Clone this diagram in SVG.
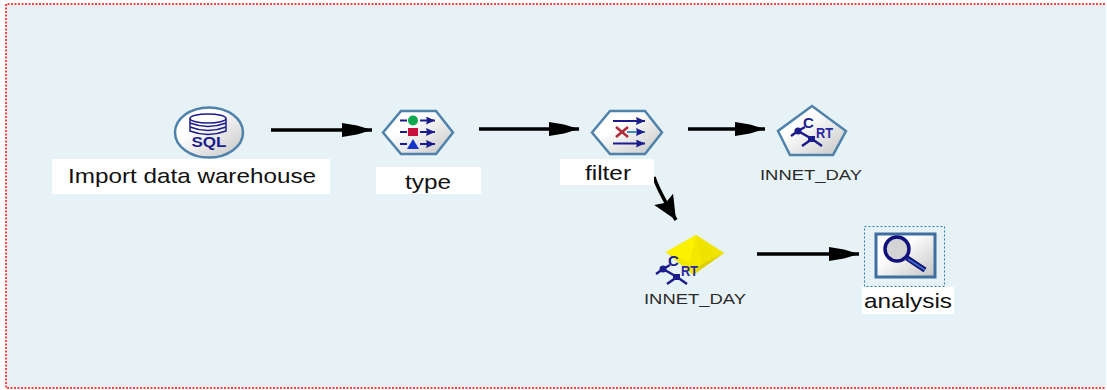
<svg xmlns="http://www.w3.org/2000/svg" width="1107" height="390" viewBox="0 0 1107 390">
<style>
text{font-family:"Liberation Sans",Arial,sans-serif;fill:#111}
.lbl{font-size:21px}
.sm{font-size:15px;fill:#2a2a2a}
.box{fill:#fff}
.shape{fill:url(#g);stroke:#4f82ab;stroke-width:2.500}
.ic{fill:none;stroke:#1c1c8c;stroke-width:2}
.icf{fill:#1c1c8c}
.conn{fill:none;stroke:#000;stroke-width:3.500}
</style>
<defs>
<linearGradient id="g" x1="0" y1="0" x2="1" y2="1"><stop offset="0.35" stop-color="#fff"/><stop offset="1" stop-color="#c4c4c4"/></linearGradient>
<marker id="a" markerUnits="userSpaceOnUse" markerWidth="30" markerHeight="16" refX="30" refY="8" orient="auto"><path d="M0 1L15 3.500 30 8 15 12.500 0 15Z" fill="#000"/></marker>
<marker id="b" markerUnits="userSpaceOnUse" markerWidth="24" markerHeight="24" refX="24" refY="12" orient="auto"><path d="M0 1L24 12 0 23 4 12Z" fill="#000"/></marker>
<marker id="ah" markerUnits="userSpaceOnUse" markerWidth="10" markerHeight="8" refX="9" refY="4" orient="auto"><path d="M0 0L9 4 0 8 1 4Z" fill="#1c1c8c"/></marker>
<g id="crt">
<path class="ic" style="stroke-width:2.500" d="M-19 6L-12 1 2 9M-12 1L-5 -3M-8 16L2 9 12 16"/>
<circle class="icf" cx="-12" cy="1" r="3.500"/><rect class="icf" x="-2" y="6" width="7" height="6"/>
<text x="-7" y="-2" style="font-size:15px;font-weight:bold;fill:#1c1c8c">C</text>
<text x="6" y="8" textLength="17" lengthAdjust="spacingAndGlyphs" style="font-size:15px;font-weight:bold;fill:#2a2aa0">RT</text>
</g>
</defs>
<rect width="1107" height="390" fill="#fff"/>
<rect x="6" y="4" width="1100" height="384" fill="#e7f2f7"/>
<path d="M1105 4H6V388H1106" fill="none" stroke="#f44" stroke-width="2" stroke-dasharray="2 1.500"/>
<g id="connectors">
<path class="conn" d="M271 130H372" marker-end="url(#a)"/>
<path class="conn" d="M479 129H579" marker-end="url(#a)"/>
<path class="conn" d="M688 129H765" marker-end="url(#a)"/>
<path class="conn" d="M654 177Q658 190 676 220" marker-end="url(#b)"/>
<path class="conn" d="M757 254H859" marker-end="url(#a)"/>
</g>
<g id="import">
<ellipse class="shape" cx="209" cy="132.500" rx="34" ry="25"/>
<g class="ic" style="stroke-width:1.500"><ellipse cx="208" cy="118.500" rx="18" ry="4.500"/><path d="M190 118.500V131Q208 138 226 131V118.500M190 123Q208 130 226 123M190 127Q208 134 226 127"/></g>
<text x="209" y="147" textLength="35" lengthAdjust="spacingAndGlyphs" style="font-size:14px;font-weight:bold;text-anchor:middle;fill:#1c1c8c">SQL</text>
<rect class="box" x="52" y="159" width="278" height="35"/>
<text class="lbl" x="68" y="183" textLength="248" lengthAdjust="spacingAndGlyphs">Import data warehouse</text>
</g>
<g id="type">
<path class="shape" d="M383 132.500L401 111H436L453 132.500 436 154H401Z"/>
<path class="ic" d="M400 120.500H407M420 120.500H435" marker-end="url(#ah)"/><circle cx="413" cy="120.500" r="5" fill="#0fa84f"/>
<path class="ic" d="M400 132H407M420 132H435" marker-end="url(#ah)"/><rect x="408" y="128" width="10" height="8" fill="#c8103c"/>
<path class="ic" d="M400 144H407M420 144H435" marker-end="url(#ah)"/><path d="M413 139L419 149H407Z" fill="#1535c8"/>
<rect class="box" x="376" y="167" width="105" height="27"/>
<text class="lbl" x="405" y="189" textLength="46" lengthAdjust="spacingAndGlyphs">type</text>
</g>
<g id="filter">
<path class="shape" d="M592 132.500L610 111H645L662 132.500 645 154H610Z"/>
<path class="ic" d="M613 121H645" marker-end="url(#ah)"/>
<path d="M627 132H645" fill="none" stroke="#3f8cc0" stroke-width="2" marker-end="url(#ah)"/>
<path d="M616 127L628 137M628 127L616 137" stroke="#b02a3a" stroke-width="2.500" fill="none"/>
<path class="ic" d="M613 143.500H645" marker-end="url(#ah)"/>
<rect class="box" x="560" y="159" width="94" height="26"/>
<text class="lbl" x="585" y="180" textLength="46" lengthAdjust="spacingAndGlyphs">filter</text>
</g>
<g id="innet1">
<path class="shape" d="M812 106L846 131 833 155H790L778 131Z"/>
<use href="#crt" x="810" y="130"/>
<text class="sm" x="760" y="180" textLength="102" lengthAdjust="spacingAndGlyphs">INNET_DAY</text>
</g>
<g id="innet2">
<path d="M696 235L724 253 693 275 666 252Z" fill="#f3e900"/>
<path d="M696 235L724 253 702 264Z" fill="#efe400"/>
<path d="M702 264L724 253 693 275Z" fill="#ddd000"/>
<path d="M696 235L690 262 666 252Z" fill="#fbf200"/>
<use href="#crt" x="675" y="268"/>
<text class="sm" x="644" y="304" textLength="102" lengthAdjust="spacingAndGlyphs">INNET_DAY</text>
</g>
<g id="analysis">
<rect x="864.500" y="226.500" width="80" height="60" fill="none" stroke="#2a7fb0" stroke-dasharray="2 2"/>
<rect x="876" y="234" width="59" height="43" fill="url(#g)" stroke="#3f6f9f" stroke-width="3"/>
<circle cx="897" cy="249" r="12" fill="#d4d4d4" stroke="#10107c" stroke-width="3.500"/>
<path d="M907 258L925 270" stroke="#10107c" stroke-width="5.500" fill="none"/>
<path d="M908 259L925 270" stroke="#3a70c0" stroke-width="2" fill="none"/>
<rect class="box" x="862" y="287" width="92" height="27"/>
<text class="lbl" x="864" y="308" textLength="88" lengthAdjust="spacingAndGlyphs">analysis</text>
</g>
</svg>
